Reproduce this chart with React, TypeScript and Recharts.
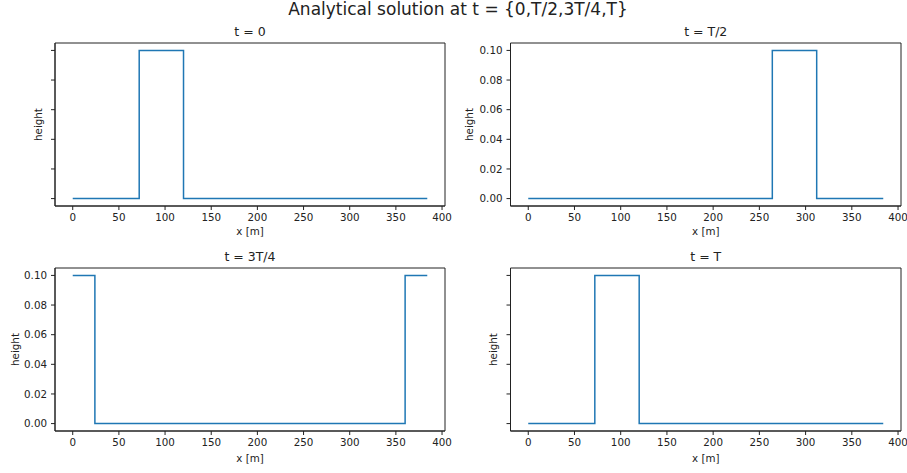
import React from "react";
import { LineChart, Line, XAxis, YAxis, Label, ReferenceArea } from "recharts";

// sample positions (m) where the pulse switches, and the height from that point on
const xT0 = [0, 72, 120, 384];
const hT0 = [0, 0.1, 0, 0];
const xTHalf = [0, 264, 312, 384];
const hTHalf = [0, 0.1, 0, 0];
const xT34 = [0, 24, 360, 384];
const hT34 = [0.1, 0, 0.1, 0.1];
const xTT = [0, 72, 120, 384];
const hTT = [0, 0.1, 0, 0];

const xTicks = [0, 50, 100, 150, 200, 250, 300, 350, 400];
const yTicks = [0, 0.02, 0.04, 0.06, 0.08, 0.1];

const toRows = (xs: number[], hs: number[]) => xs.map((x, i) => ({ x, h: hs[i] }));

const INK = "#222";
const FONT = "'DejaVu Sans', sans-serif";
const TICK_FS = 10.3;
const XDOM: [number, number] = [-19.2, 403.2];
const YDOM: [number, number] = [-0.005, 0.105];

const noTick = () => <g />;

type PanelProps = {
  title: string;
  rows: { x: number; h: number }[];
  left: number;
  top: number;
  width: number;
  height: number;
  yw: number;
  mRight: number;
  mTop: number;
  xh: number;
  mBottom: number;
  showY: boolean;
  labelX: number;
};

const Panel = (p: PanelProps) => {
  const plotLeft = p.yw;
  const plotRight = p.width - p.mRight;
  const yLabel = (props: any) => {
    const vb = props.viewBox;
    const cy = vb.y + vb.height / 2;
    return (
      <text
        x={p.labelX}
        y={cy}
        transform={`rotate(-90, ${p.labelX}, ${cy})`}
        textAnchor="middle"
        dominantBaseline="central"
        fontSize={TICK_FS}
        fill={INK}
      >
        height
      </text>
    );
  };
  return (
    <div style={{ position: "absolute", left: p.left, top: p.top, width: p.width, height: p.height }}>
      <div
        style={{
          position: "absolute",
          left: plotLeft,
          width: plotRight - plotLeft,
          top: p.mTop - 19,
          textAlign: "center",
          fontSize: 12.5,
          lineHeight: "16px",
          color: INK,
        }}
      >
        {p.title}
      </div>
      <LineChart
        width={p.width}
        height={p.height}
        data={p.rows}
        margin={{ top: p.mTop, right: p.mRight, left: 0, bottom: p.mBottom }}
      >
        <XAxis
          dataKey="x"
          type="number"
          domain={XDOM}
          ticks={xTicks}
          allowDataOverflow
          height={p.xh}
          stroke={INK}
          tickSize={4}
          tickMargin={4}
          tick={{ fill: INK, fontSize: TICK_FS }}
        >
          <Label value="x [m]" position="insideBottom" offset={0} fontSize={TICK_FS} fill={INK} />
        </XAxis>
        <YAxis
          type="number"
          domain={YDOM}
          ticks={yTicks}
          allowDataOverflow
          width={p.yw}
          stroke={INK}
          tickSize={4}
          tickMargin={4}
          tick={p.showY ? { fill: INK, fontSize: TICK_FS } : noTick}
          tickFormatter={(v: number) => v.toFixed(2)}
        >
          <Label content={yLabel} />
        </YAxis>
        <ReferenceArea
          x1={XDOM[0]}
          x2={XDOM[1]}
          y1={YDOM[0]}
          y2={YDOM[1]}
          fill="none"
          stroke={INK}
          strokeWidth={1}
          ifOverflow="visible"
        />
        <Line
          type="stepAfter"
          dataKey="h"
          stroke="#1f77b4"
          strokeWidth={1.5}
          dot={false}
          isAnimationActive={false}
        />
      </LineChart>
    </div>
  );
};

export default function App() {
  return (
    <div
      style={{
        position: "absolute",
        left: 0,
        top: 0,
        width: 907,
        height: 473,
        background: "#fff",
        fontFamily: FONT,
        overflow: "hidden",
      }}
    >
      <div
        style={{
          position: "absolute",
          left: 0,
          width: 916,
          top: -1,
          textAlign: "center",
          fontSize: 17,
          lineHeight: "20px",
          color: INK,
        }}
      >
        Analytical solution at t = {"{0,T/2,3T/4,T}"}
      </div>
      <Panel
        title="t = 0"
        rows={toRows(xT0, hT0)}
        left={0}
        top={0}
        width={453}
        height={240}
        yw={55}
        mRight={8}
        mTop={43}
        xh={29}
        mBottom={5}
        showY={false}
        labelX={38}
      />
      <Panel
        title="t = T/2"
        rows={toRows(xTHalf, hTHalf)}
        left={453}
        top={0}
        width={454}
        height={240}
        yw={57.5}
        mRight={6}
        mTop={43}
        xh={29}
        mBottom={5}
        showY={true}
        labelX={15.5}
      />
      <Panel
        title="t = 3T/4"
        rows={toRows(xT34, hT34)}
        left={0}
        top={240}
        width={453}
        height={233}
        yw={55}
        mRight={8}
        mTop={28}
        xh={31}
        mBottom={11}
        showY={true}
        labelX={15}
      />
      <Panel
        title="t = T"
        rows={toRows(xTT, hTT)}
        left={453}
        top={240}
        width={454}
        height={233}
        yw={57.5}
        mRight={6}
        mTop={28}
        xh={31}
        mBottom={11}
        showY={false}
        labelX={39.5}
      />
    </div>
  );
}
